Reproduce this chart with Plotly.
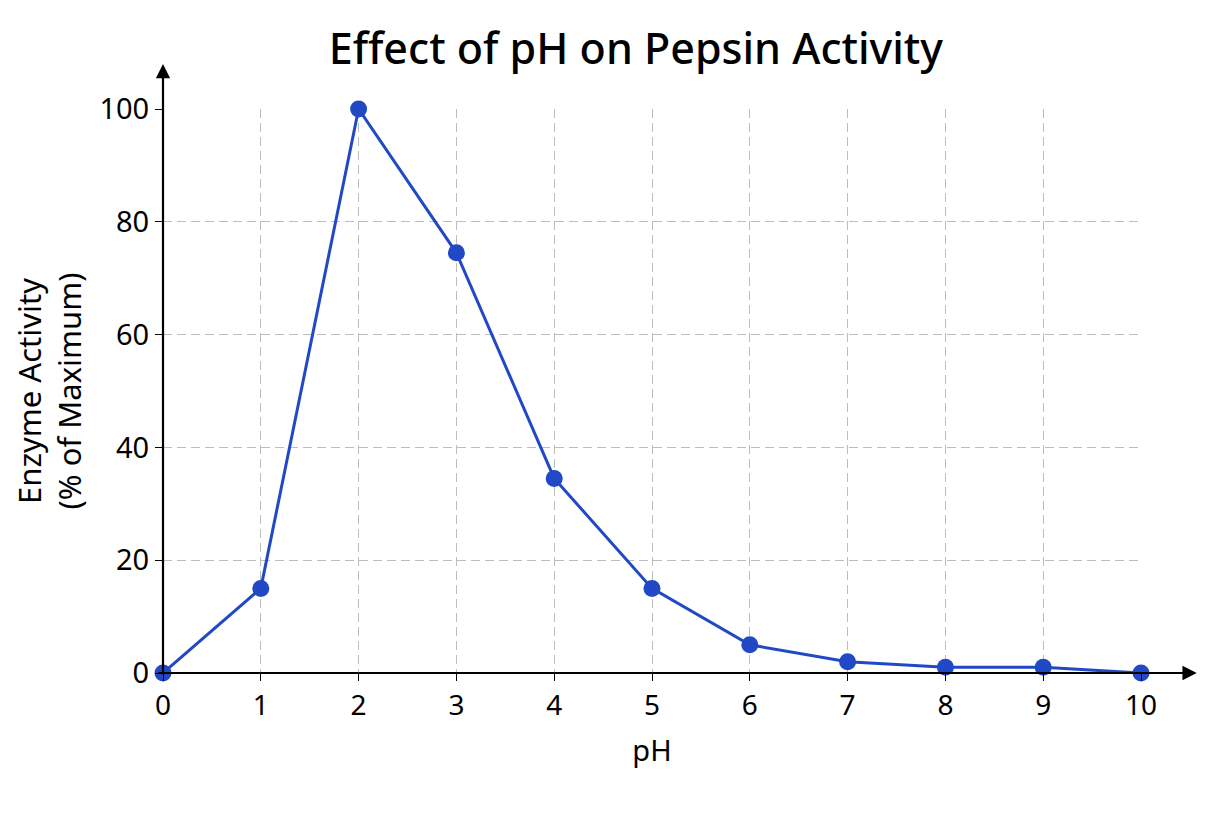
import plotly.graph_objects as go

# ---------- datos ----------
ph = [0, 1, 2, 3, 4, 5, 6, 7, 8, 9, 10]
actividad = [0, 15, 100, 74.5, 34.5, 15, 5, 2, 1, 1, 0]

x_ticks = [0, 1, 2, 3, 4, 5, 6, 7, 8, 9, 10]
y_ticks = [0, 20, 40, 60, 80, 100]

azul = "#2149c6"
fuente = "Noto Sans"
gris = "#bdbdbd"

fig = go.Figure()

fig.add_trace(go.Scatter(
    x=ph, y=actividad,
    mode="lines+markers",
    line=dict(color=azul, width=3),
    marker=dict(color=azul, size=17),
    cliponaxis=False,
    showlegend=False,
))

# ejes con flecha (decoracion)
fig.add_annotation(xref="paper", yref="paper", axref="pixel", ayref="pixel",
                   x=1.057, y=0, ax=-1040, ay=0, showarrow=True,
                   arrowhead=2, arrowsize=1.3, arrowwidth=2.2, arrowcolor="black", text="")
fig.add_annotation(xref="paper", yref="paper", axref="pixel", ayref="pixel",
                   x=0, y=1.08, ax=0, ay=612, showarrow=True,
                   arrowhead=2, arrowsize=1.3, arrowwidth=2.2, arrowcolor="black", text="")

fig.update_layout(
    width=1224, height=816,
    paper_bgcolor="white", plot_bgcolor="white",
    margin=dict(l=155, r=91, t=101, b=151),
    title=dict(text="Effect of pH on Pepsin Activity", x=0.513, xanchor="center",
               y=0.95, yanchor="middle",
               font=dict(family=fuente, size=43, color="black", weight=500)),
    font=dict(family=fuente, color="black"),
)

fig.update_xaxes(
    range=[0, 10], tickvals=x_ticks, ticks="outside", ticklen=7, tickcolor="black",
    tickfont=dict(size=28), showline=False, zeroline=False,
    showgrid=True, gridcolor=gris, griddash="9px,5px", gridwidth=1,
    title=dict(text="pH", font=dict(size=29), standoff=19),
)
fig.update_yaxes(
    range=[0, 100], tickvals=y_ticks, ticks="outside", ticklen=7, tickcolor="black",
    tickfont=dict(size=29), showline=False, zeroline=False,
    showgrid=True, gridcolor=gris, griddash="9px,5px", gridwidth=1,
    title=dict(text="Enzyme Activity<br>(% of Maximum)", font=dict(size=31), standoff=16),
)

fig.write_html("out.html")
